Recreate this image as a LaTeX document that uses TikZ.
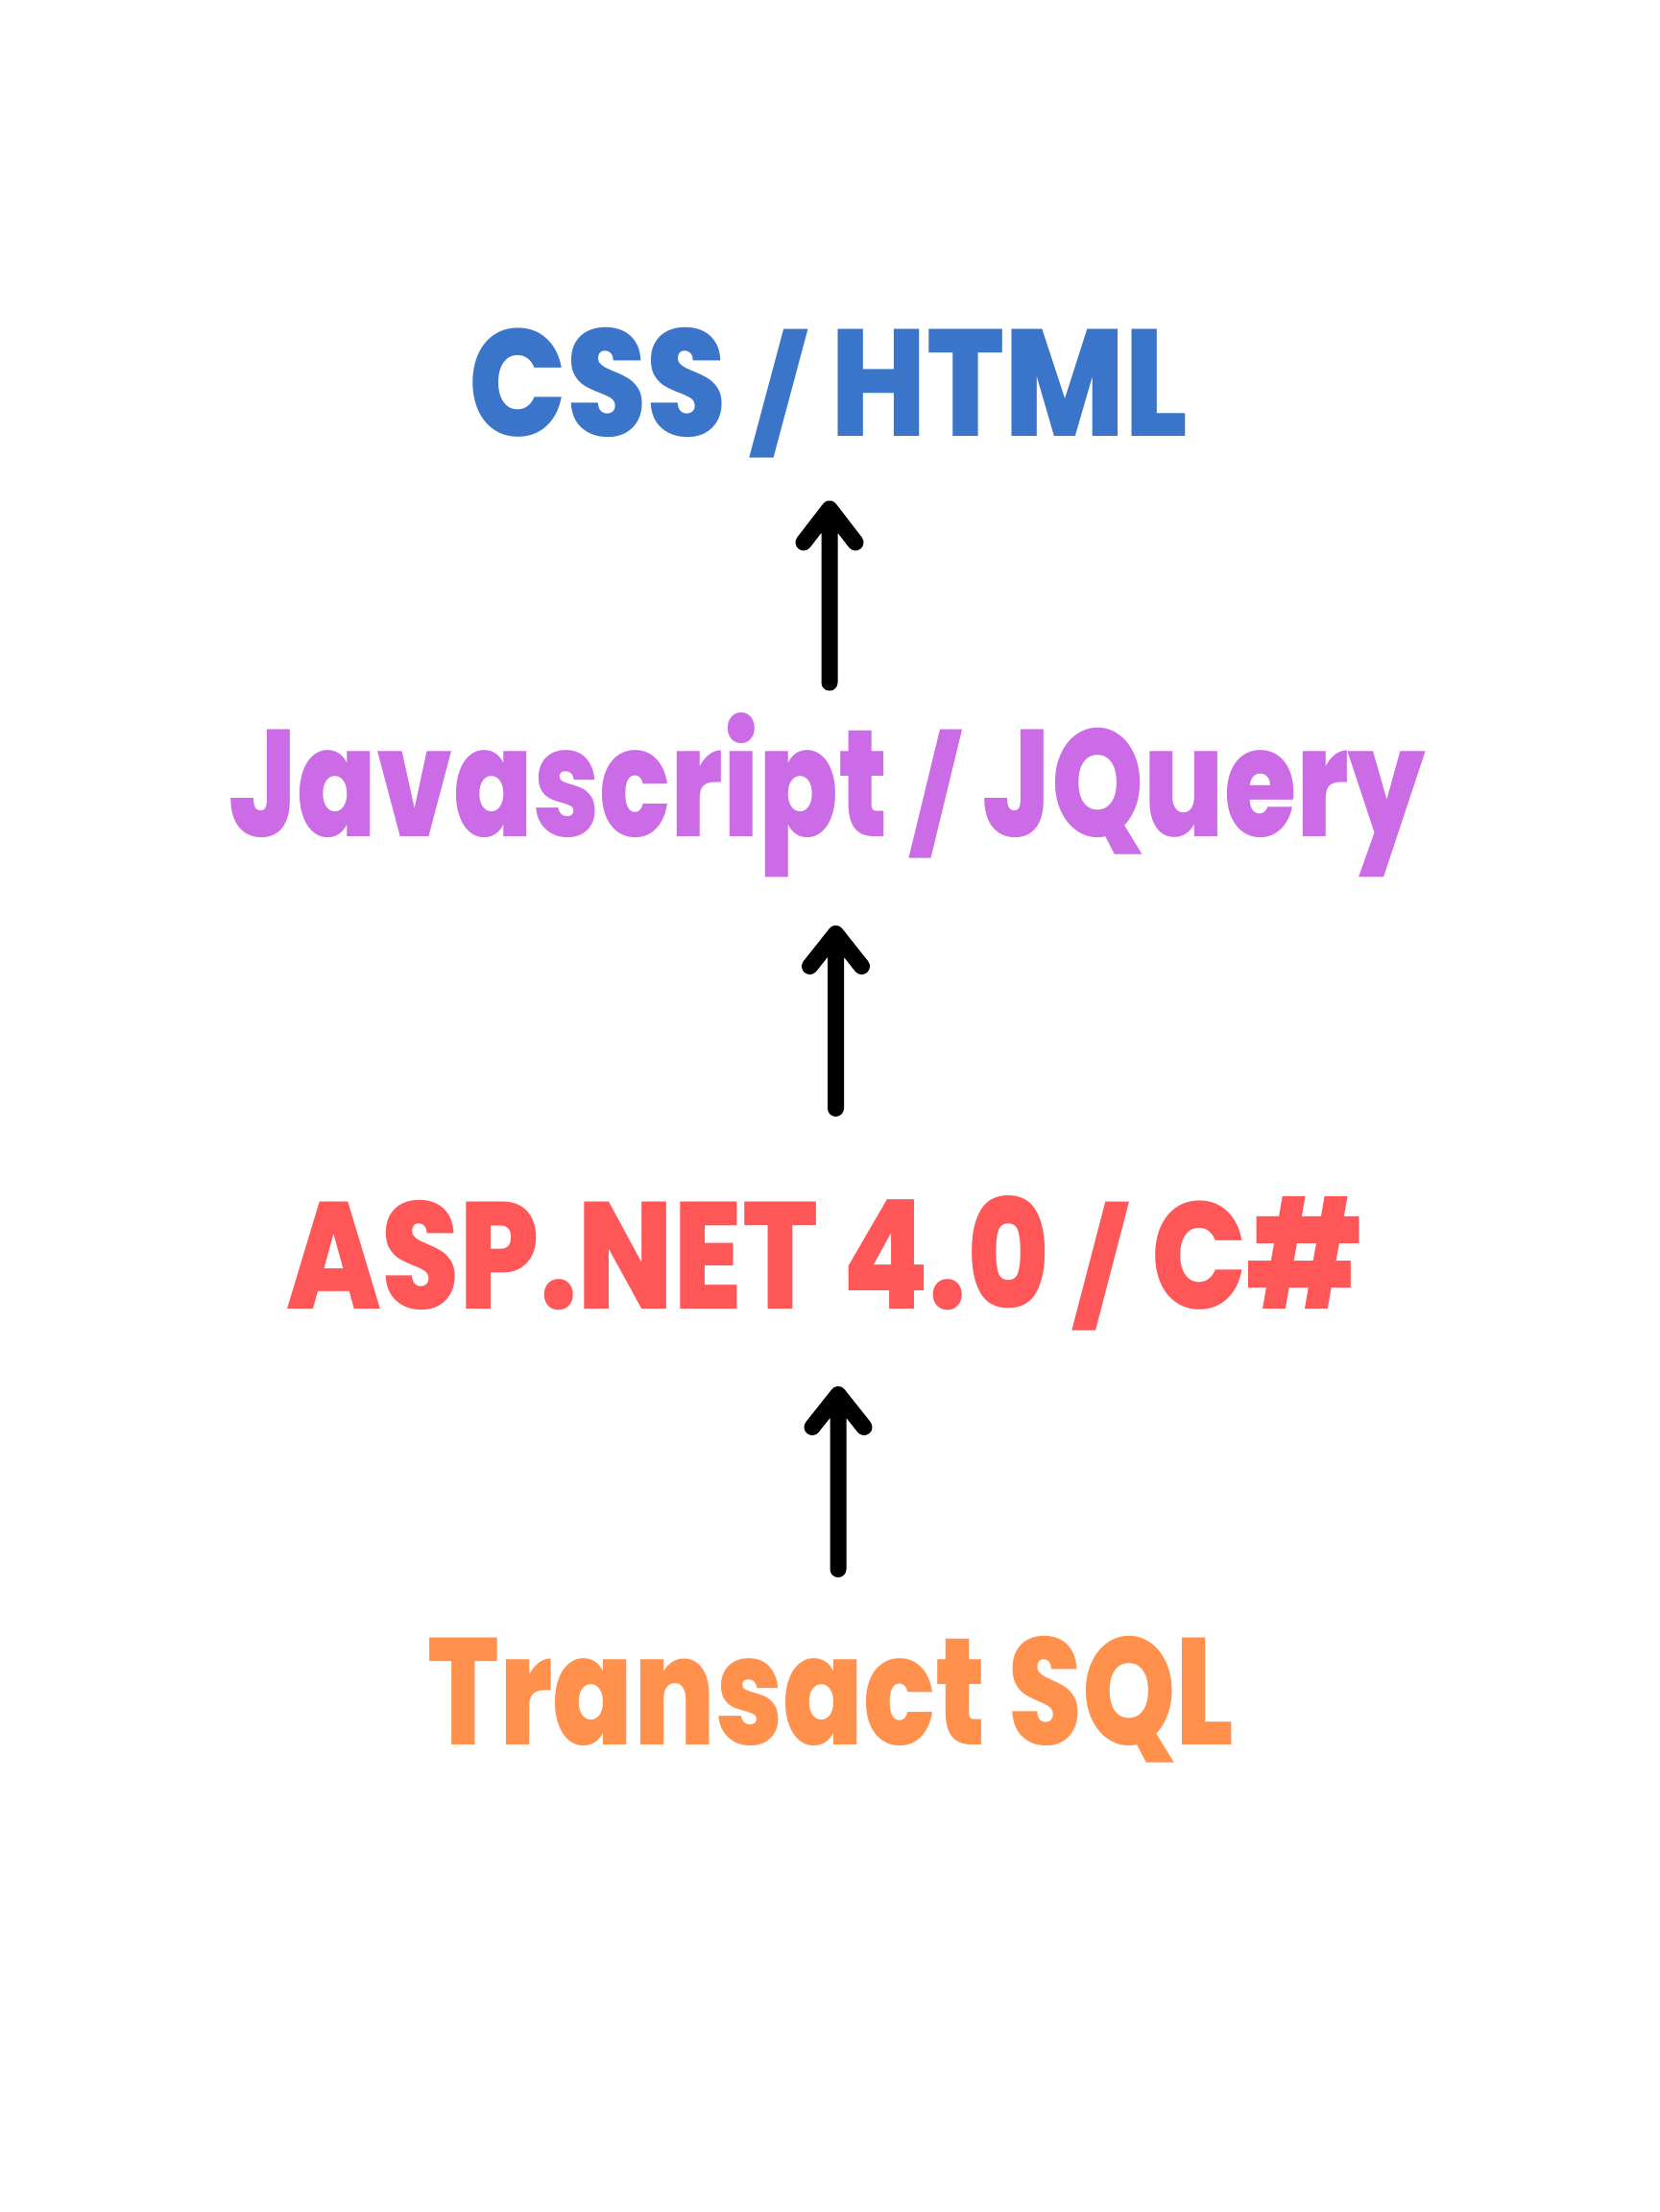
\documentclass[tikz,border=0pt]{standalone}
\usepackage{fontspec}
\setmainfont{Poppins}[BoldFont={Poppins ExtraBold}]
\usepackage{graphicx}
\definecolor{cblue}{HTML}{3A75C9}
\definecolor{cpurple}{HTML}{CB6CE6}
\definecolor{cred}{HTML}{FF5757}
\definecolor{corange}{HTML}{FF914D}
\newcommand{\thinslash}{\scalebox{1}[0.74]{/}}
\tikzset{
  label/.style={anchor=base west, inner sep=0pt, font=\fontsize{45}{50}\selectfont\bfseries},
  arrowline/.style={line width=0.17cm, line cap=round, line join=round, black}
}
\begin{document}
\begin{tikzpicture}
\useasboundingbox (0,0) rectangle (17.28,-23.04);
\fill[white] (0,0) rectangle (17.28,-23.04);
\node[label, text=cblue] (css) at (4.88,-4.55) {\resizebox{7.49cm}{\height}{CSS \thinslash{} HTML}};
\node[label, text=cpurple] (js) at (2.38,-8.71) {\resizebox{12.46cm}{\height}{Javascript \thinslash{} JQuery}};
\node[label, text=cred] (asp) at (2.98,-13.63) {\resizebox{11.20cm}{\height}{ASP.NET 4.0 \thinslash{} C\#}};
\node[label, text=corange] (sql) at (4.45,-18.17) {\resizebox{8.40cm}{\height}{Transact SQL}};
\coordinate (a1b) at (8.64,-7.11);
\coordinate (a1t) at (8.64,-5.30);
\coordinate (a2b) at (8.705,-11.545);
\coordinate (a2t) at (8.705,-9.725);
\coordinate (a3b) at (8.73,-16.345);
\coordinate (a3t) at (8.73,-14.525);
\draw[arrowline] (a1b) -- (a1t) -- ++(-0.27,-0.35) (a1t) -- ++(0.27,-0.35);
\draw[arrowline] (a2b) -- (a2t) -- ++(-0.27,-0.34) (a2t) -- ++(0.27,-0.34);
\draw[arrowline] (a3b) -- (a3t) -- ++(-0.27,-0.34) (a3t) -- ++(0.27,-0.34);
\end{tikzpicture}
\end{document}
